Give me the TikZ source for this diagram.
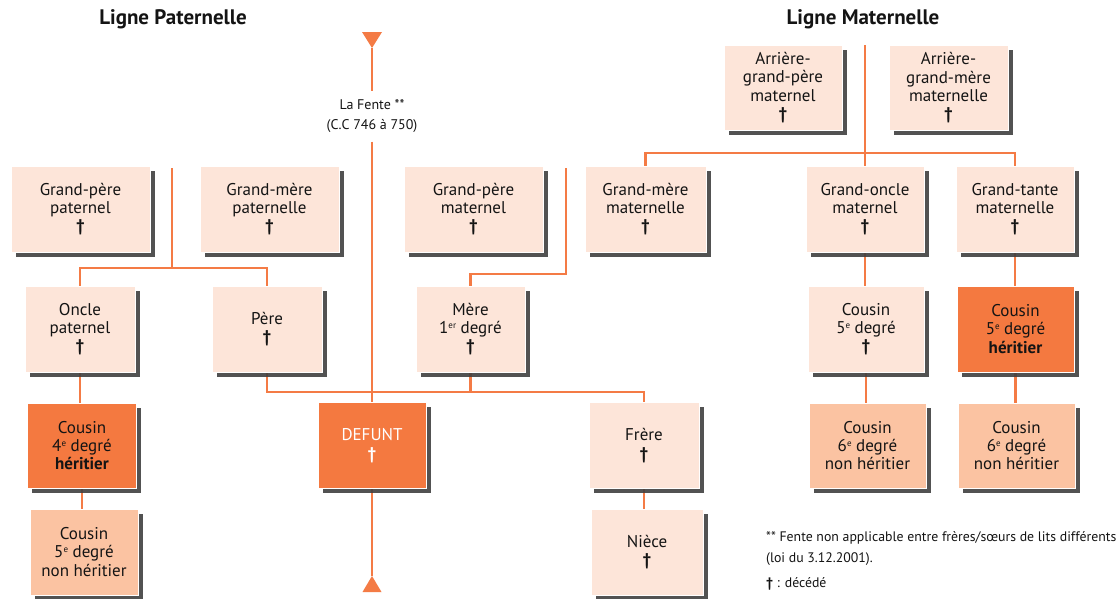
\documentclass[tikz,border=0pt]{standalone}
\usepackage{fontspec}
\setmainfont{PT Sans}
\usetikzlibrary{shadows,backgrounds,calc}
\definecolor{lineor}{HTML}{F47B45}
\definecolor{pale}{HTML}{FDE5D9}
\definecolor{hot}{HTML}{F47940}
\definecolor{mid}{HTML}{FBC3A2}
\newcommand{\supx}[1]{\raisebox{0.62ex}{\fontsize{9}{9}\selectfont #1}}
\newcommand{\dgx}{\textbf{†}}
\tikzset{
  pbox/.style={fill=pale, draw=white, line width=1pt, align=center, inner sep=0pt,
    font=\fontsize{17}{18.3}\selectfont, text=black!92,
    drop shadow={shadow xshift=4.5pt, shadow yshift=-4.5pt, fill=black!75, opacity=0.9}},
  hbox/.style={pbox, fill=hot},
  nbox/.style={pbox, fill=mid},
  conn/.style={draw=lineor, line width=2.8pt},
  ttl/.style={font=\fontsize{21}{24}\selectfont\bfseries, text=black!92},
  small/.style={font=\fontsize{14}{19.5}\selectfont, text=black!92},
  note/.style={font=\fontsize{13.8}{21}\selectfont, text=black!92},
}
\begin{document}
\begin{tikzpicture}[x=1pt,y=-1pt]
\useasboundingbox (0,0) rectangle (1117,598);
% titles
\node[ttl] (tp) at (173,19) {Ligne Paternelle};
\node[ttl] (tm) at (863,19) {Ligne Maternelle};
% maternal top
\node[pbox, minimum width=118pt, minimum height=85pt] (agp) at (783,87.5) {Arrière-\\grand-père\\maternel\\\dgx};
\node[pbox, minimum width=119pt, minimum height=85pt] (agm) at (948.5,88) {Arrière-\\grand-mère\\maternelle\\\dgx};
% row 2
\node[pbox, minimum width=139pt, minimum height=86pt] (gpp) at (80.5,209) {Grand-père\\paternel\\\dgx};
\node[pbox, minimum width=139pt, minimum height=86pt] (gmp) at (269.5,209) {Grand-mère\\paternelle\\\dgx};
\node[pbox, minimum width=139pt, minimum height=86pt] (gpm) at (473.5,209) {Grand-père\\maternel\\\dgx};
\node[pbox, minimum width=121pt, minimum height=86pt] (gmm) at (645.5,209) {Grand-mère\\maternelle\\\dgx};
\node[pbox, minimum width=118pt, minimum height=86pt] (gom) at (865,209) {Grand-oncle\\maternel\\\dgx};
\node[pbox, minimum width=118pt, minimum height=86pt] (gtm) at (1015,209) {Grand-tante\\maternelle\\\dgx};
% row 3
\node[pbox, minimum width=110pt, minimum height=86pt] (oncle) at (80,329) {Oncle\\paternel\\\dgx};
\node[pbox, minimum width=110pt, minimum height=86pt] (pere) at (267,329) {Père\\\dgx};
\node[pbox, minimum width=109pt, minimum height=86pt] (mere) at (470.5,329) {Mère\\1\supx{er} degré\\\dgx};
\node[pbox, minimum width=116pt, minimum height=86pt] (c5m) at (866,329) {Cousin\\5\supx{e} degré\\\dgx};
\node[hbox, minimum width=117pt, minimum height=86pt] (c5h) at (1015.5,329) {Cousin\\5\supx{e} degré\\\textbf{héritier}};
% row 4
\node[hbox, minimum width=109pt, minimum height=85pt] (c4h) at (82,445.5) {Cousin\\4\supx{e} degré\\\textbf{héritier}};
\node[hbox, minimum width=108pt, minimum height=86pt, text=white] (defunt) at (372,445.5) {DEFUNT\\\dgx};
\node[pbox, minimum width=110pt, minimum height=86pt] (frere) at (644,445.5) {Frère\\\dgx};
\node[nbox, minimum width=117pt, minimum height=85pt] (c6a) at (867.5,445.5) {Cousin\\6\supx{e} degré\\non héritier};
\node[nbox, minimum width=117pt, minimum height=85pt] (c6b) at (1016.5,445.5) {Cousin\\6\supx{e} degré\\non héritier};
% row 5
\node[nbox, minimum width=108pt, minimum height=86pt] (c5n) at (84,552) {Cousin\\5\supx{e} degré\\non héritier};
\node[pbox, minimum width=112pt, minimum height=86pt] (niece) at (647,552) {Nièce\\\dgx};
% fente label
\node[small, align=center, inner sep=9pt] (fente) at (372,116) {La Fente **\\(C.C 746 à 750)};
% notes
\node[note, anchor=west, align=left, inner sep=0pt] (note1) at (766,548.5) {** Fente non applicable entre frères/sœurs de lits différents\\(loi du 3.12.2001).};
\node[note, anchor=west, inner sep=0pt] (note2) at (766,584) {\dgx\ : décédé};
% coordinates
\coordinate (ftop) at (372,48);
\coordinate (fbot) at (372,576);
\coordinate (pv) at (172,168);
\coordinate (ph) at (172,268);
\coordinate (mv) at (566,168);
\coordinate (mh) at (566,274);
\coordinate (pb) at (644,392);
\coordinate (av) at (865,45);
\coordinate (ah) at (865,153);
\begin{pgfonlayer}{background}
\fill[white] (0,0) rectangle (1117,598);
% fente
\draw[conn] (ftop) -- (fente.north);
\draw[conn] (fente.south) -- (defunt.north);
\draw[conn] (defunt.south) -- (fbot);
% paternal grandparents
\draw[conn] (pv) -- (ph);
\draw[conn] (oncle.north) |- (ph) -| (pere.north);
% maternal grandparents
\draw[conn] (mere.north) |- (mh) -- (mv);
% parents to siblings
\draw[conn] (pere.south) |- (pb) -- (frere.north);
\draw[conn] (mere.south) -- (mere.south |- pb);
% paternal descendants
\draw[conn] (oncle.south) -- (oncle.south |- c4h.north);
\draw[conn] (c4h.south) -- (c4h.south |- c5n.north);
\draw[conn] (frere.south) -- (frere.south |- niece.north);
% maternal great-grandparents
\draw[conn] (av) -- (gom.north);
\draw[conn] (gmm.north) |- (ah) -| (gtm.north);
\draw[conn] (gom.south) -- (gom.south |- c5m.north);
\draw[conn] (c5m.south) -- (c5m.south |- c6a.north);
\draw[conn] (gtm.south) -- (gtm.south |- c5h.north);
\draw[conn] (c5h.south) -- (c5h.south |- c6b.north);
\end{pgfonlayer}
% triangles
\fill[lineor] (ftop) -- ++(-10,-16) -- ++(20,0) -- cycle;
\fill[lineor] (fbot) -- ++(-9.5,16) -- ++(19,0) -- cycle;
\end{tikzpicture}
\end{document}
